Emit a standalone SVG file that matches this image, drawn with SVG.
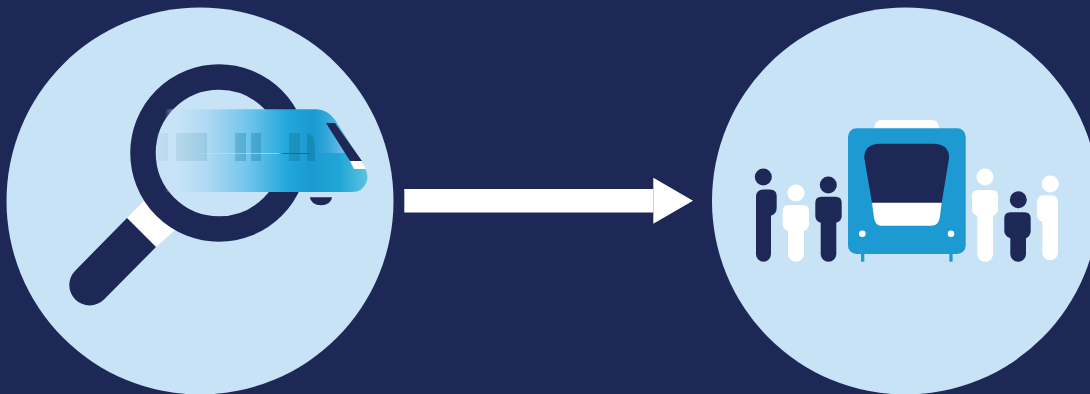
<svg xmlns="http://www.w3.org/2000/svg" width="1090" height="394" viewBox="0 0 1090 394">
<style>
.bg{fill:#1d2857}.disc{fill:#c8e3f6}.dark{fill:#1d2857}.white{fill:#fff}.blue{fill:#1e9ad2}
.win{fill:url(#winGrad)}
</style>
<defs>
<marker id="head" markerUnits="userSpaceOnUse" markerWidth="40" markerHeight="46" refX="0" refY="23" orient="auto"><path d="M0 0L39.700 23L0 46Z" fill="#fff"/></marker>
<linearGradient id="trainGrad" gradientUnits="userSpaceOnUse" x1="165" y1="0" x2="367" y2="0">
<stop offset="0" stop-color="#c8e3f6" stop-opacity="0"/>
<stop offset=".08" stop-color="#c4e2f6"/>
<stop offset=".2" stop-color="#b0daf3"/>
<stop offset=".4" stop-color="#75c6ec"/>
<stop offset=".6" stop-color="#22a9dc"/>
<stop offset=".72" stop-color="#1a9ad0"/>
<stop offset=".78" stop-color="#1e9fd3"/>
<stop offset=".86" stop-color="#1fa6d6"/>
<stop offset="1" stop-color="#5cc2e0"/>
</linearGradient>
<linearGradient id="upperGrad" gradientUnits="userSpaceOnUse" x1="312" y1="0" x2="358" y2="0">
<stop offset="0" stop-color="#1f9fd8" stop-opacity="0"/>
<stop offset=".6" stop-color="#66b6e7"/>
<stop offset="1" stop-color="#8cc6ec"/>
</linearGradient>
<linearGradient id="winGrad" gradientUnits="userSpaceOnUse" x1="155" y1="0" x2="315" y2="0">
<stop offset="0" stop-color="#7fb2c8" stop-opacity=".12"/>
<stop offset=".3" stop-color="#6fa9bf" stop-opacity=".3"/>
<stop offset=".55" stop-color="#2a8cb0" stop-opacity=".42"/>
<stop offset="1" stop-color="#0f7d9f" stop-opacity=".55"/>
</linearGradient>
<linearGradient id="lineGrad" gradientUnits="userSpaceOnUse" x1="200" y1="0" x2="310" y2="0">
<stop offset="0" stop-color="#fff" stop-opacity=".1"/>
<stop offset=".7" stop-color="#a8dcf0" stop-opacity=".8"/>
<stop offset=".76" stop-color="#0f6f96"/>
<stop offset="1" stop-color="#0f6f96"/>
</linearGradient>
</defs>
<rect class="bg" width="1090" height="394"/>
<g id="search">
<circle class="disc" cx="200" cy="201" r="193.500"/>
<path class="white" d="M127 218L145 200L175 230L156 247Z"/>
<path class="dark" d="M127 218L156 247L104 299.400A20.300 20.300 0 0 1 75.200 270.700Z"/>
<circle cx="219" cy="153" r="76" fill="none" stroke="#1d2857" stroke-width="25.500"/>
<path class="dark" d="M310 197.300H332A11 8 0 0 1 310 197.300Z"/>
<path fill="url(#trainGrad)" d="M165 109.300H316Q327 109.300 335 120L365 168Q369 176 366.500 182Q363 192 352 192H165Z"/>
<path fill="url(#upperGrad)" d="M312 109.300H316Q327 109.300 335 120L356 153H312Z"/>
<path class="win" d="M157 133h11v28h-11ZM176 133h31v28h-31ZM235 133h11v28h-11ZM251 133h10v28h-10ZM289 133h11v28h-11ZM307 133Q315 135 315 147V161H307Z"/>
<rect x="200" y="153" width="110" height="1" fill="url(#lineGrad)"/>
<path class="dark" d="M326 123H335L362 161H350Z"/>
<path class="white" d="M350 161H361L366 169H354Z"/>
</g>
<g id="connectors">
<line x1="404.300" y1="200.700" x2="653.300" y2="200.700" stroke="#fff" stroke-width="23.400" marker-end="url(#head)"/>
</g>
<g id="platform">
<circle class="disc" cx="905.500" cy="201" r="193.500"/>
<g id="tram">
<rect class="white" x="874.300" y="120" width="64.700" height="16" rx="7"/>
<rect class="blue" x="861" y="250" width="3.300" height="11.700"/>
<rect class="blue" x="949.300" y="250" width="3.300" height="11.700"/>
<rect class="blue" x="848" y="128.300" width="117.700" height="125.700" rx="8.500"/>
<path class="dark" d="M880 143.700H933Q949.500 144 949 158L941.700 203H872L864.300 158Q864 144 880 143.700Z"/>
<path class="white" d="M872 202.700H941.700L939.700 218Q938.500 225.700 931 225.700H881Q875.500 225.700 874 218Z"/>
<circle class="white" cx="862.300" cy="233.700" r="3.300"/>
<circle class="white" cx="951" cy="233.700" r="3.300"/>
</g>
<g id="person1" class="dark"><circle cx="763.300" cy="177" r="8.500"/><path d="M756 197Q756 189.500 763.500 189.500H770Q776.700 189.500 776.700 196V208Q776.700 213.500 771 215.700V254A7.500 7.700 0 0 1 756 254Z"/></g>
<g id="person2" class="white"><circle cx="796" cy="193" r="8.500"/><path d="M788 230.700H787.700Q782.700 229 782.700 224V211Q782.700 205 788.700 205H803Q809 205 809 211V224Q809 229 804 230.700V254A8 7.700 0 0 1 788 254Z"/></g>
<g id="person3" class="dark"><circle cx="828.300" cy="185" r="8.500"/><path d="M820.700 222.700Q815.300 221 815.300 216V203Q815.300 196.700 821.300 196.700H835.700Q841.700 196.700 841.700 203V216Q841.700 221 836.300 222.700V254A7.800 7.700 0 0 1 820.700 254Z"/></g>
<g id="person4" class="white"><circle cx="985" cy="177" r="8.500"/><path d="M977.300 216Q972 214 972 209V196Q972 190 978 190H992Q998 190 998 196V209Q998 214 993 216V254A7.800 7.700 0 0 1 977.300 254Z"/></g>
<g id="person5" class="dark"><circle cx="1018.300" cy="199.700" r="8.500"/><path d="M1010.300 238.300Q1004.300 236 1004.300 231V218.300Q1004.300 212.300 1010.300 212.300H1024.700Q1030.700 212.300 1030.700 218.300V231Q1030.700 236 1026 238.300V254A7.800 7.700 0 0 1 1010.300 254Z"/></g>
<g id="person6" class="white"><circle cx="1050.300" cy="184" r="8.500"/><path d="M1058 203V252.500A7.800 7.700 0 0 1 1042.300 252.500V221.700Q1037 219.500 1037 214.500V202Q1037 195.300 1044 195.300H1051Q1058 195.300 1058 203Z"/></g>
</g>
</svg>
